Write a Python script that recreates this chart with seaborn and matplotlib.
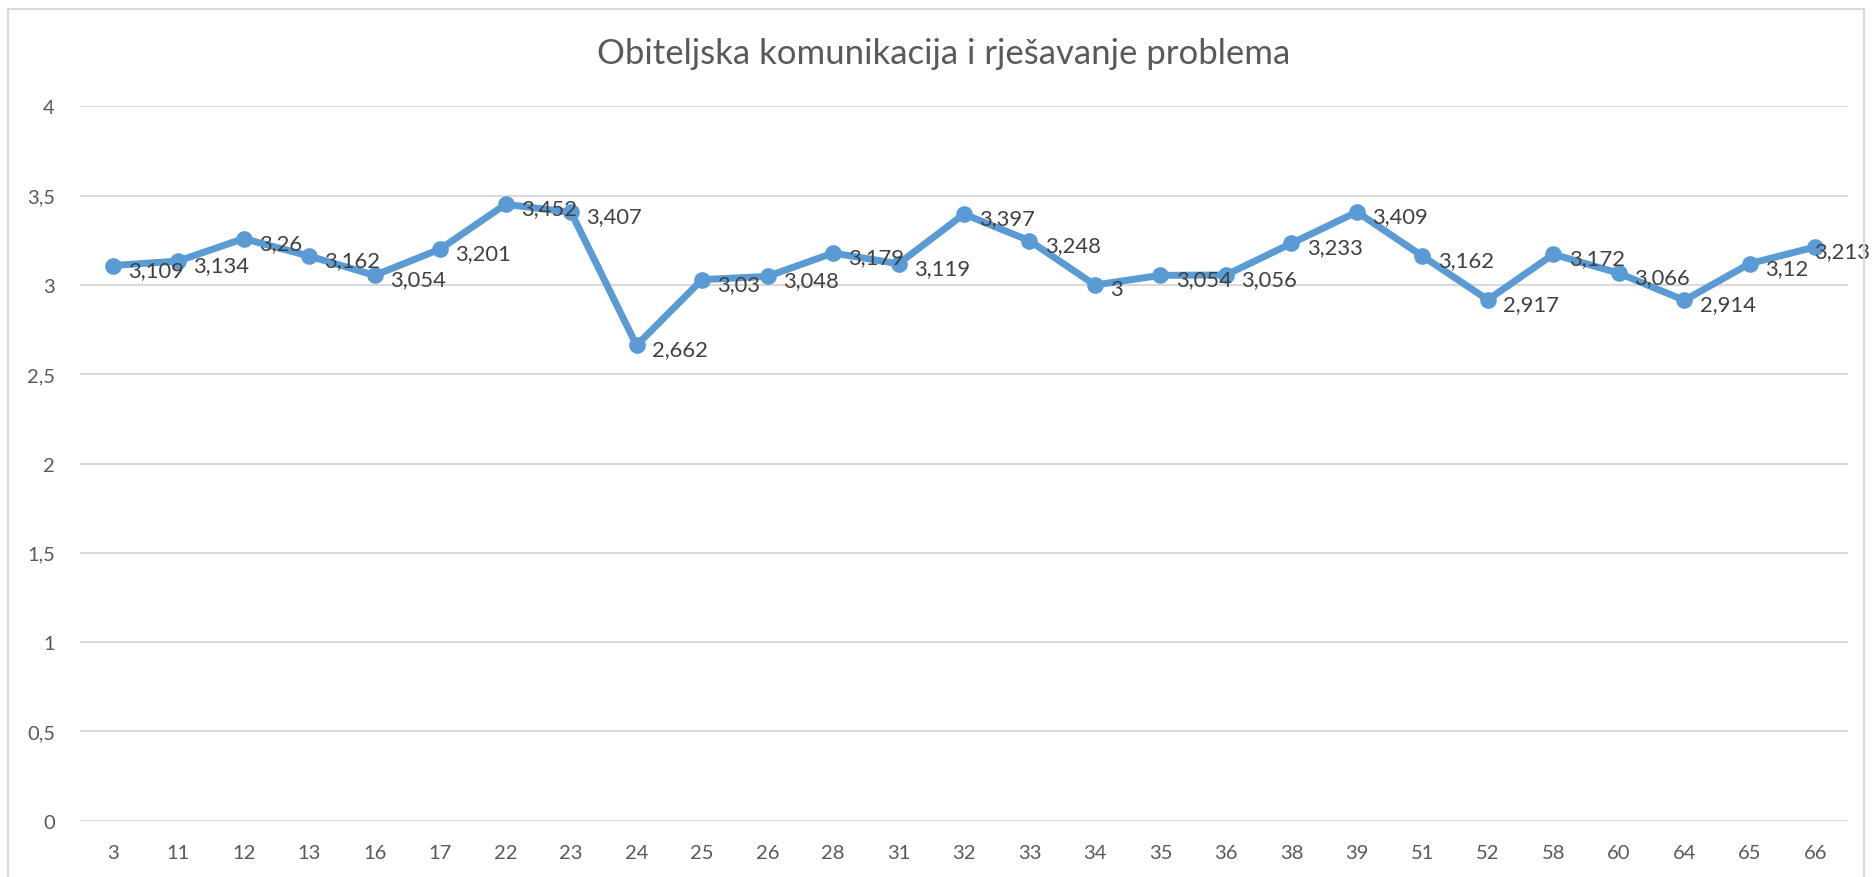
import numpy as np
import pandas as pd
import seaborn as sns
import matplotlib.pyplot as plt
from matplotlib.patches import Rectangle

# data
categories = ['3', '11', '12', '13', '16', '17', '22', '23', '24', '25', '26', '28', '31', '32',
              '33', '34', '35', '36', '38', '39', '51', '52', '58', '60', '64', '65', '66']
values = [3.109, 3.134, 3.26, 3.162, 3.054, 3.201, 3.452, 3.407, 2.662, 3.03, 3.048, 3.179, 3.119, 3.397,
          3.248, 3.0, 3.054, 3.056, 3.233, 3.409, 3.162, 2.917, 3.172, 3.066, 2.914, 3.12, 3.213]
y_ticks = [0, 0.5, 1, 1.5, 2, 2.5, 3, 3.5, 4]
title = 'Obiteljska komunikacija i rješavanje problema'

df = pd.DataFrame({'kat': categories, 'val': values})

sns.set_theme(style='white')
plt.rcParams['font.family'] = ['Lato', 'DejaVu Sans']

fig = plt.figure(figsize=(18.72, 8.78), dpi=100)
ax = fig.add_axes([0.0427, 0.0643, 0.9445, 0.8133])

# chart border
fig.patches.append(Rectangle((8 / 1872, -0.05), 1 - 16 / 1872, 1.05 - 10 / 878,
                             transform=fig.transFigure, fill=False,
                             edgecolor='#D9D9D9', linewidth=1.5))

line_col = '#5B9BD5'
sns.lineplot(data=df, x='kat', y='val', sort=False, ax=ax, color=line_col,
             linewidth=5, marker='o', markersize=12, markeredgewidth=0)

labels = []
for i, v in enumerate(values):
    lab = f'{v:g}'.replace('.', ',')
    t = ax.annotate(lab, (i, v), xytext=(11, -3), textcoords='offset points',
                    ha='left', va='center', fontsize=15.8, color='#404040')
    labels.append(t)

ax.set_ylim(0, 4)
ax.set_xlim(-0.5, len(categories) - 0.5)
ax.set_yticks(y_ticks)
ax.set_yticklabels([f'{t:g}'.replace('.', ',') for t in y_ticks])
ax.yaxis.grid(True, color='#D9D9D9', linewidth=1.5)
ax.set_axisbelow(True)
for s in ax.spines.values():
    s.set_visible(False)
ax.tick_params(axis='both', length=0, labelsize=14.5, labelcolor='#595959')
ax.tick_params(axis='y', pad=18)
ax.tick_params(axis='x', pad=17)
ax.set_xlabel('')
ax.set_ylabel('')

fig.text(0.504, 0.938, title, ha='center', va='center', fontsize=25, color='#595959')

# keep labels inside the chart like Excel does
fig.canvas.draw()
r = fig.canvas.get_renderer()
W = fig.bbox.width
for t in labels:
    bb = t.get_window_extent(r)
    if bb.x1 > W - 2:
        shift = (bb.x1 - (W - 2)) * 72 / fig.dpi
        x, y = t.xyann
        t.xyann = (x - shift, y)

fig.savefig('out.png', dpi=100)
